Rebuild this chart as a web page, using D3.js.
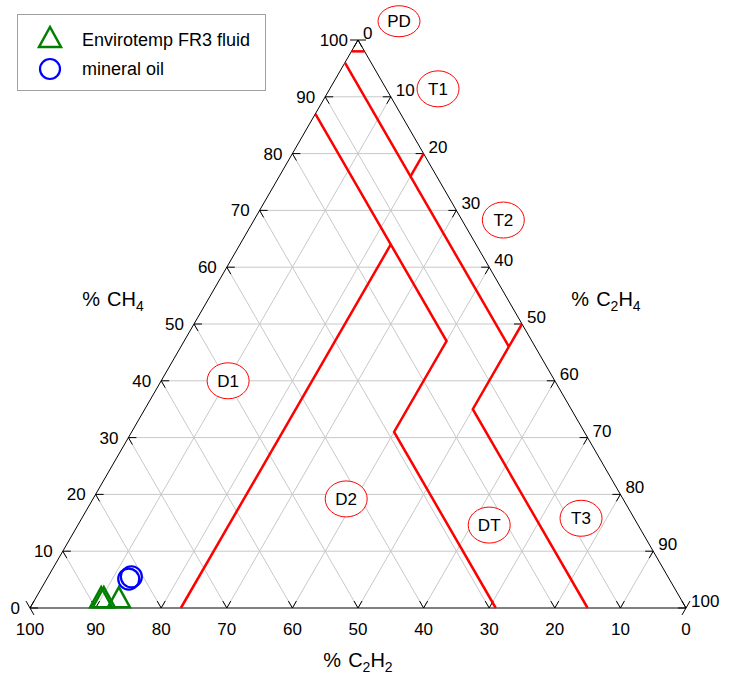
<!DOCTYPE html>
<html>
<head>
<meta charset="utf-8">
<script src="https://cdn.jsdelivr.net/npm/d3@7"></script>
<style>
html,body{margin:0;padding:0;background:#fff;}
svg{display:block;font-family:"Liberation Sans",Arial,sans-serif;}
</style>
</head>
<body>
<svg id="chart" width="733" height="683"></svg>
<script>
// ---- data ----
const tickValues = [0,10,20,30,40,50,60,70,80,90,100];
const gridValues = [10,20,30,40,50,60,70,80,90];

// Envirotemp FR3 fluid samples (% CH4, % C2H4, % C2H2)
const fr3CH4  = [1.9, 1.9, 1.9];
const fr3C2H4 = [9.9, 10.3, 12.6];
const fr3C2H2 = [88.2, 87.8, 85.5];

// mineral oil samples
const oilCH4  = [5.1, 5.5];
const oilC2H4 = [12.5, 12.7];
const oilC2H2 = [82.4, 81.8];

// Duval triangle zone boundaries, as [CH4, C2H4] vertex lists
const boundaryPD    = [[98,0],[98,2]];
const boundaryT1    = [[96,0],[46,50]];
const boundaryT1T2  = [[76,20],[80,20]];
const boundaryT2T3  = [[46,50],[50,50]];
const boundaryT3DT  = [[46,50],[35,50],[0,85]];
const boundaryD1D2  = [[64,23],[0,23]];
const boundaryD2DT  = [[87,0],[47,40],[31,40],[0,71]];
const boundaries = [boundaryPD, boundaryT1, boundaryT1T2, boundaryT2T3, boundaryT3DT, boundaryD1D2, boundaryD2DT];

// zone labels: name, CH4, C2H4
const zoneNames = ["PD","T1","T2","D1","D2","DT","T3"];
const zoneCH4   = [103.3, 91.4, 68.3, 40.0, 19.2, 14.6, 15.8];
const zoneC2H4  = [4.6, 16.5, 38.0, 10.2, 38.6, 62.7, 76.1];

const legendLabels = ["Envirotemp FR3 fluid", "mineral oil"];

// ---- geometry via scales ----
const L = 30, R = 686, B = 608, T = 40;
const xs = d3.scaleLinear().domain([0,100]).range([L, R]);
const ys = d3.scaleLinear().domain([0,100]).range([B, T]);
function px(ch4, c2h4){ return [xs(c2h4 + ch4/2), ys(ch4)]; }

const svg = d3.select("#chart");
const g = svg.append("g");

// grid
const grid = g.append("g").attr("stroke","#c8c8c8").attr("stroke-width",1).attr("fill","none");
gridValues.forEach(v=>{
  let a = px(v,0), b = px(v,100-v);
  grid.append("line").attr("x1",a[0]).attr("y1",a[1]).attr("x2",b[0]).attr("y2",b[1]);
  a = px(0,v); b = px(100-v,v);
  grid.append("line").attr("x1",a[0]).attr("y1",a[1]).attr("x2",b[0]).attr("y2",b[1]);
  a = px(0,100-v); b = px(100-v,0);
  grid.append("line").attr("x1",a[0]).attr("y1",a[1]).attr("x2",b[0]).attr("y2",b[1]);
});

// triangle outline
const tri = [px(0,0), px(0,100), px(100,0)];
g.append("path").attr("d","M"+tri.map(p=>p.join(",")).join("L")+"Z")
  .attr("fill","none").attr("stroke","#000").attr("stroke-width",1);

// ticks
const tk = g.append("g").attr("stroke","#000").attr("stroke-width",1);
const tlen = 8;
function tick(p, dx, dy){ tk.append("line").attr("x1",p[0]).attr("y1",p[1]).attr("x2",p[0]+dx*tlen).attr("y2",p[1]+dy*tlen); }
const s60 = Math.sqrt(3)/2;
tickValues.forEach(v=>{
  const pl = px(v,0);
  tick(pl, 1, 0); tick(pl, 0.5, s60);
  const pr = px(100-v, v);
  tick(pr, -1, 0); tick(pr, -0.5, s60);
  const pb = px(0, 100-v);
  tick(pb, 0.5, -s60); tick(pb, -0.5, -s60);
});

// tick labels
const lab = g.append("g").attr("font-size","17px").attr("fill","#000");
tickValues.forEach(v=>{
  const pl = px(v,0);
  lab.append("text").attr("x",pl[0]-10).attr("y",pl[1]).attr("dy","0.35em").attr("text-anchor","end").text(v);
  const pr = px(100-v, v);
  lab.append("text").attr("x",pr[0]+5).attr("y",pr[1]-1).attr("text-anchor","start").text(v);
  const pb = px(0, 100-v);
  lab.append("text").attr("x",pb[0]).attr("y",pb[1]+27).attr("text-anchor","middle").text(v);
});

// axis titles
function title(x, y, sub1, sub2){
  const t = g.append("text").attr("x",x).attr("y",y).attr("font-size","20px").attr("text-anchor","middle");
  t.append("tspan").text("%");
  t.append("tspan").attr("dx",7).text("C");
  if(sub1){ t.append("tspan").attr("font-size","14px").attr("dy",5).text(sub1); t.append("tspan").attr("dy",-5).text("H"); }
  else { t.append("tspan").text("H"); }
  t.append("tspan").attr("font-size","14px").attr("dy",5).text(sub2);
}
title(113, 306, null, "4");
title(606, 306, "2", "4");
title(358, 667, "2", "2");

// boundaries
const line = d3.line().x(d=>px(d[0],d[1])[0]).y(d=>px(d[0],d[1])[1]);
g.append("g").selectAll("path").data(boundaries).join("path")
  .attr("d", line).attr("fill","none").attr("stroke","#ff0000").attr("stroke-width",2.5);

// zone labels
zoneNames.forEach((n,i)=>{
  const p = px(zoneCH4[i], zoneC2H4[i]);
  g.append("ellipse").attr("cx",p[0]).attr("cy",p[1]).attr("rx",21).attr("ry", n==="PD"?15.5:18)
    .attr("fill","#fff").attr("stroke","#ff0000").attr("stroke-width",1);
  g.append("text").attr("x",p[0]).attr("y",p[1]).attr("dy","0.36em").attr("text-anchor","middle")
    .attr("font-size","17px").text(n);
});

// markers
const triPath = "M-11,10L11,10L0,-10Z";
fr3CH4.forEach((c,i)=>{
  const p = px(c, fr3C2H4[i]);
  g.append("path").attr("d",triPath).attr("transform",`translate(${p[0]},${p[1]})`)
    .attr("fill","none").attr("stroke","#008000").attr("stroke-width",2.5);
});
oilCH4.forEach((c,i)=>{
  const p = px(c, oilC2H4[i]);
  g.append("circle").attr("cx",p[0]).attr("cy",p[1]).attr("r",10.5)
    .attr("fill","none").attr("stroke","#0000ff").attr("stroke-width",2.2);
});

// legend
const lg = svg.append("g");
lg.append("rect").attr("x",17.5).attr("y",14.5).attr("width",248).attr("height",76)
  .attr("fill","#fff").attr("stroke","#a0a0a0").attr("stroke-width",1);
lg.append("path").attr("d",triPath).attr("transform","translate(50,37)")
  .attr("fill","none").attr("stroke","#008000").attr("stroke-width",2.5);
lg.append("circle").attr("cx",50).attr("cy",69).attr("r",10)
  .attr("fill","none").attr("stroke","#0000ff").attr("stroke-width",2.2);
lg.selectAll("text").data(legendLabels).join("text")
  .attr("x",82).attr("y",(d,i)=>i===0?46:75).attr("font-size","18px").text(d=>d);
</script>
</body>
</html>
